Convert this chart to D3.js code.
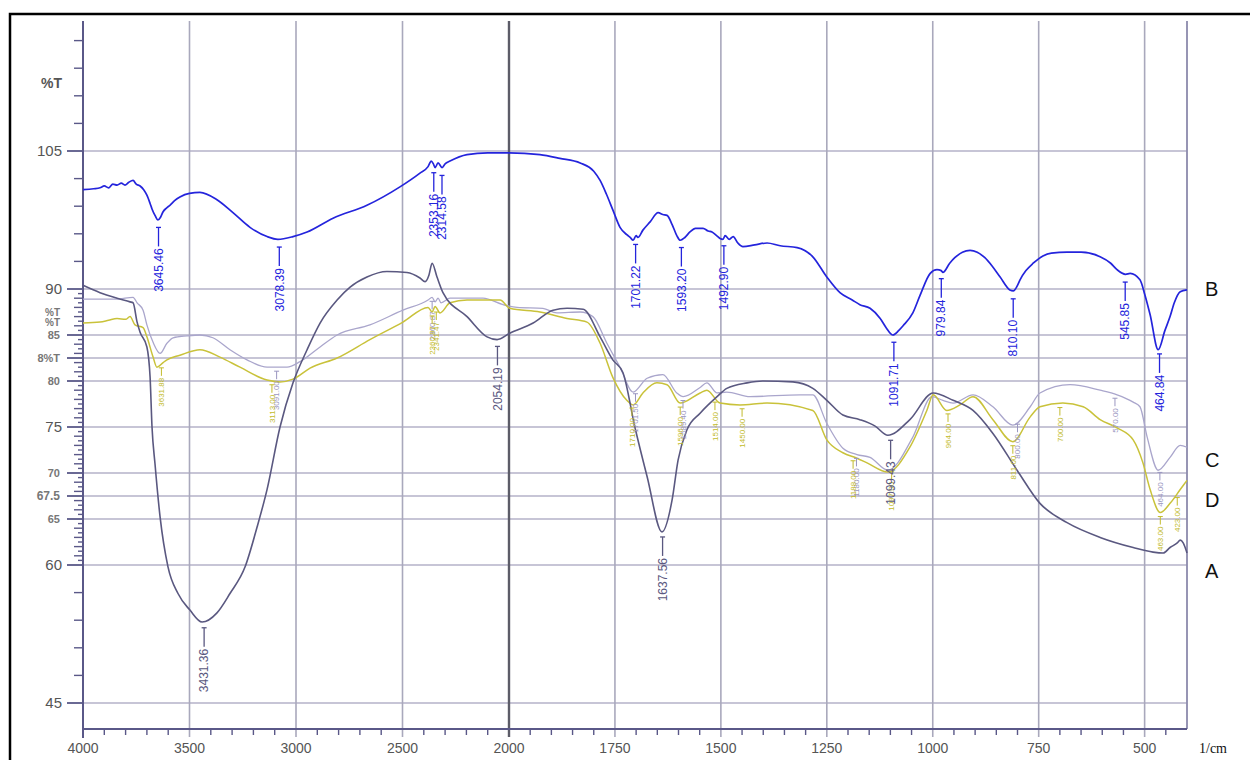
<!DOCTYPE html>
<html><head><meta charset="utf-8">
<script src="https://cdn.jsdelivr.net/npm/d3@7"></script>
<style>body{margin:0;background:#fff;} svg{display:block;font-family:"Liberation Sans",Arial,sans-serif;}</style>
</head><body><svg id="c" width="1250" height="760"></svg>
<script>
// ---------- data ----------
const xMajorTicks = [4000, 3500, 3000, 2500, 2000, 1750, 1500, 1250, 1000, 750, 500];
const yTickValues = [105, 90, 85, 82.5, 80, 75, 70, 67.5, 65, 60, 45];
const yTickLabels = ["105", "90", "85", "8%T", "80", "75", "70", "67.5", "65", "60", "45"];
const seriesNames = ["B", "C", "D", "A"];

const specB = [[4000,100.8],[3950,100.9],[3920,101.0],[3900,101.2],[3880,101.0],[3860,101.4],[3840,101.3],[3820,101.5],[3803,101.3],[3785,101.6],[3765,101.8],[3750,101.4],[3732,101.2],[3715,100.8],[3700,100.2],[3685,99.3],[3676,98.7],[3662,98.0],[3648,97.5],[3636,97.8],[3624,98.4],[3608,98.8],[3592,99.1],[3570,99.6],[3545,100.0],[3500,100.4],[3451,100.5],[3371,99.7],[3296,98.3],[3216,96.7],[3136,95.7],[3085,95.4],[3014,95.7],[2948,96.2],[2826,97.7],[2667,99.1],[2512,101.1],[2418,102.6],[2380,103.3],[2365,103.9],[2355,103.6],[2347,103.2],[2333,103.7],[2314,103.2],[2300,103.6],[2277,103.9],[2197,104.6],[2100,104.8],[2042,104.8],[2000,104.8],[1927,104.6],[1880,104.2],[1832,103.7],[1800,102.8],[1785,101.8],[1770,100.3],[1755,98.6],[1738,96.7],[1722,95.9],[1714,95.6],[1707,95.3],[1700,95.8],[1696,95.6],[1684,96.4],[1667,97.3],[1648,98.3],[1637,98.1],[1627,98.0],[1615,97.0],[1604,95.8],[1596,95.3],[1585,95.6],[1573,96.2],[1560,96.6],[1542,96.6],[1530,96.3],[1521,96.2],[1510,95.8],[1502,95.5],[1495,95.4],[1490,95.8],[1480,95.4],[1471,95.7],[1460,95.0],[1448,94.6],[1420,94.8],[1391,95.0],[1360,94.7],[1320,94.5],[1283,93.5],[1250,91.3],[1219,89.6],[1190,88.8],[1172,88.3],[1148,87.9],[1124,86.8],[1110,85.8],[1094,85.0],[1080,85.5],[1070,86.0],[1047,87.4],[1030,89.3],[1006,91.7],[990,92.1],[980,92.0],[976,91.8],[960,92.8],[948,93.4],[930,94.0],[912,94.2],[895,94.0],[877,93.4],[860,92.5],[841,91.3],[818,89.9],[810,89.8],[800,90.4],[794,91.0],[780,92.0],[763,92.8],[740,93.6],[720,93.9],[683,94.0],[650,94.0],[605,93.5],[580,92.8],[565,92.1],[545,91.6],[534,91.7],[511,91.0],[499,89.3],[487,87.2],[468,83.4],[452,85.5],[440,87.0],[430,88.5],[416,89.7],[400,89.9]];

const specA = [[4000,90.4],[3920,89.6],[3840,89.0],[3779,88.6],[3765,88.5],[3746,86.4],[3732,85.3],[3700,83.7],[3685,80.4],[3676,75.0],[3662,71.0],[3638,65.2],[3601,59.8],[3554,56.9],[3498,55.1],[3441,53.8],[3371,54.8],[3310,56.9],[3239,59.8],[3183,64.1],[3136,68.2],[3075,75.0],[3014,79.8],[2948,83.4],[2887,86.3],[2807,88.8],[2746,90.2],[2667,91.3],[2573,91.9],[2479,91.8],[2418,91.2],[2394,90.8],[2376,91.5],[2361,92.8],[2338,91.3],[2310,89.6],[2197,87.0],[2103,84.8],[2056,84.5],[1998,85.2],[1943,86.3],[1896,87.7],[1863,87.9],[1825,87.8],[1785,84.8],[1755,82.3],[1731,80.9],[1703,75.0],[1674,69.6],[1639,63.6],[1615,67.1],[1601,71.4],[1580,74.7],[1549,76.5],[1509,78.3],[1486,79.2],[1438,79.8],[1401,80.0],[1330,79.9],[1283,79.2],[1250,77.9],[1212,76.3],[1172,75.8],[1136,75.1],[1106,74.1],[1054,75.8],[999,78.7],[952,77.9],[905,76.8],[858,74.3],[801,70.3],[747,66.7],[683,64.6],[605,63.0],[527,61.9],[480,61.4],[456,61.3],[440,61.9],[423,62.4],[416,62.7],[409,62.4],[400,61.3]];

const specC = [[4000,88.9],[3840,88.9],[3765,89.1],[3746,88.5],[3718,87.7],[3700,86.1],[3671,84.2],[3638,83.0],[3606,84.1],[3577,84.7],[3512,84.9],[3451,85.0],[3390,84.7],[3310,83.4],[3230,82.3],[3136,81.5],[3042,81.5],[2981,82.1],[2887,83.7],[2807,85.0],[2653,86.1],[2498,87.7],[2380,88.8],[2361,89.1],[2347,88.6],[2333,89.0],[2319,88.5],[2277,89.0],[2122,89.0],[2028,88.3],[1981,88.0],[1920,87.9],[1887,87.4],[1832,87.5],[1802,87.0],[1769,84.1],[1738,81.5],[1707,78.8],[1674,80.3],[1637,80.7],[1604,78.7],[1589,78.3],[1549,79.3],[1533,79.8],[1509,78.7],[1486,78.8],[1431,78.3],[1313,78.5],[1283,78.5],[1250,75.4],[1212,72.7],[1179,72.0],[1148,71.7],[1106,70.3],[1047,73.9],[1002,78.3],[976,77.9],[952,77.6],[905,78.5],[858,77.2],[811,75.2],[770,77.2],[747,78.7],[676,79.6],[605,79.0],[565,78.5],[527,77.7],[511,77.2],[494,73.9],[468,70.3],[440,71.7],[416,73.0],[400,72.8]];

const specD = [[4000,86.3],[3920,86.4],[3880,86.6],[3840,86.8],[3800,86.7],[3779,87.0],[3756,86.1],[3718,85.8],[3700,84.8],[3671,82.6],[3653,81.5],[3624,82.0],[3606,82.3],[3545,82.8],[3451,83.4],[3357,82.6],[3263,81.5],[3136,80.1],[3075,79.9],[3014,80.2],[2934,81.4],[2807,82.5],[2653,84.5],[2498,86.4],[2380,88.0],[2361,87.5],[2347,88.1],[2324,87.4],[2277,88.5],[2197,88.8],[2042,88.8],[1998,87.9],[1927,87.5],[1863,86.8],[1816,86.4],[1785,84.1],[1755,80.4],[1722,77.9],[1707,77.4],[1684,78.7],[1651,79.8],[1627,79.6],[1596,77.6],[1549,78.7],[1533,79.0],[1502,77.6],[1455,77.4],[1391,77.6],[1283,76.8],[1250,73.6],[1212,72.2],[1179,71.6],[1155,71.1],[1106,70.1],[1054,72.8],[1014,76.8],[999,78.5],[967,76.8],[936,77.4],[905,78.3],[858,75.8],[811,73.4],[770,76.1],[747,77.2],[693,77.6],[645,77.2],[605,75.8],[565,74.9],[527,73.6],[504,71.1],[487,68.2],[463,65.7],[440,66.7],[416,68.2],[400,69.2]];

const peaksB = [3645.46, 3078.39, 2353.16, 2314.58, 1701.22, 1593.20, 1492.90, 1091.71, 979.84, 810.10, 545.85, 464.84];
const peaksA = [3431.36, 2054.19, 1637.56, 1099.43];
const peaksC = [3091.00, 2360.87, 1701.50, 1589.40, 1180.00, 800.00, 570.00, 464.00];
const peaksD = [3631.88, 3113.00, 2360.87, 2341.47, 1710.00, 1596.00, 1514.00, 1450.00, 1188.00, 1097.00, 964.00, 811.00, 700.00, 463.00, 423.00];

// ---------- layout ----------
const svg = d3.select("#c");
const x = d3.scaleLinear().domain([4000, 2000, 400]).range([83, 509, 1187]);
const y = d3.scaleLinear().domain([105, 45]).range([151, 703]);
const plotTop = 21, axisBase = 729;
const colors = {B:"#2424dc", A:"#5a5880", C:"#aaa6cc", D:"#c9c23a"};

// frame
svg.append("rect").attr("x",10).attr("y",14).attr("width",1262).attr("height",780)
  .attr("fill","none").attr("stroke","#000").attr("stroke-width",2.5);

// grid
const grid = svg.append("g");
grid.selectAll("line.h").data(yTickValues).join("line")
  .attr("x1",x(4000)).attr("x2",x(400)).attr("y1",d=>y(d)).attr("y2",d=>y(d))
  .attr("stroke","#b4b2c8").attr("stroke-width",1.6);
grid.selectAll("line.v").data(xMajorTicks.slice(1)).join("line")
  .attr("x1",d=>x(d)).attr("x2",d=>x(d)).attr("y1",plotTop).attr("y2",axisBase+8)
  .attr("stroke",d=>d===2000?"#5c5c68":"#a9a8bc").attr("stroke-width",d=>d===2000?2.4:1.6);
grid.append("line").attr("x1",x(400)).attr("x2",x(400)).attr("y1",plotTop).attr("y2",axisBase)
  .attr("stroke","#8c8aac").attr("stroke-width",1.8);

// axes
const ax = svg.append("g").attr("stroke","#5a5888");
ax.append("line").attr("x1",x(4000)).attr("x2",x(4000)).attr("y1",plotTop).attr("y2",axisBase+9).attr("stroke-width",2);
ax.append("line").attr("x1",x(4000)).attr("x2",x(400)).attr("y1",axisBase).attr("y2",axisBase).attr("stroke-width",1.8);
const xMinor = d3.range(3900, 2000, -100).filter(v=>v%500!==0).concat(d3.range(1950, 400, -50).filter(v=>v%250!==0));
ax.selectAll("line.xm").data(xMinor).join("line")
  .attr("x1",d=>x(d)).attr("x2",d=>x(d)).attr("y1",axisBase).attr("y2",axisBase+6).attr("stroke-width",1.4);
ax.selectAll("line.ym").data(yTickValues).join("line")
  .attr("x1",67).attr("x2",x(4000)).attr("y1",d=>y(d)).attr("y2",d=>y(d)).attr("stroke-width",1.8);
const yMinor = [117,114,111,108,102,99,96,93,57,54,51,48].concat(d3.range(89.5, 60, -0.5).filter(v=>!yTickValues.includes(v)));
ax.selectAll("line.yn").data(yMinor).join("line")
  .attr("x1",d=>(d>60&&d<90&&d%1!==0)?78:74).attr("x2",x(4000)).attr("y1",d=>y(d)).attr("y2",d=>y(d)).attr("stroke-width",1.4);

// x labels
svg.append("g").selectAll("text").data(xMajorTicks).join("text")
  .attr("x",d=>x(d)).attr("y",748).attr("dy","0.35em").attr("text-anchor","middle")
  .attr("font-size",14).attr("fill","#555").text(d=>d);
svg.append("text").attr("x",1199).attr("y",748).attr("dy","0.35em")
  .attr("font-family","'Liberation Serif','Times New Roman',serif").attr("font-size",14).attr("fill","#111").text("1/cm");

// y labels
const bigY = new Set([105, 90, 75, 60, 45]);
svg.append("g").selectAll("text").data(yTickValues).join("text")
  .attr("x",d=>bigY.has(d)?62:60).attr("y",d=>y(d)).attr("dy","0.35em").attr("text-anchor","end")
  .attr("font-size",d=>bigY.has(d)?15:(d===67.5?12:11)).attr("font-weight",d=>bigY.has(d)?"normal":"bold")
  .attr("fill",d=>bigY.has(d)?"#555":"#777").text((d,i)=>yTickLabels[i]);
svg.append("text").attr("x",62).attr("y",83).attr("dy","0.35em").attr("text-anchor","end")
  .attr("font-size",14).attr("font-weight","bold").attr("fill","#555").text("%T");
[87.4, 86.4].forEach(v=>svg.append("text").attr("x",60).attr("y",y(v)).attr("dy","0.35em").attr("text-anchor","end")
  .attr("font-size",10).attr("font-weight","bold").attr("fill","#777").text("%T"));

// curves
const line = d3.line().x(d=>x(d[0])).y(d=>y(d[1])).curve(d3.curveMonotoneX);
const specs = {B:specB, C:specC, D:specD, A:specA};
const widths = {B:1.7, A:1.6, C:1.3, D:1.5};
["C","D","A","B"].forEach(k=>{
  svg.append("path").datum(specs[k]).attr("d",line).attr("fill","none")
    .attr("stroke",colors[k]).attr("stroke-width",widths[k]).attr("stroke-linejoin","round");
});

// peak annotations
function valueAt(spec, w){
  for(let i=0;i<spec.length-1;i++){
    const a=spec[i], b=spec[i+1];
    if(w<=a[0] && w>=b[0]){ const t=(a[0]-w)/(a[0]-b[0]); return a[1]+t*(b[1]-a[1]); }
  }
  return spec[spec.length-1][1];
}
function annotate(spec, peaks, color, gap, len, fs, sw){
  const g = svg.append("g");
  peaks.forEach(p=>{
    const px = x(p), y0 = y(valueAt(spec,p))+gap, y1 = y0+len;
    g.append("line").attr("x1",px).attr("x2",px).attr("y1",y0).attr("y2",y1).attr("stroke",color).attr("stroke-width",sw);
    g.append("line").attr("x1",px-2.5).attr("x2",px+2.5).attr("y1",y0).attr("y2",y0).attr("stroke",color).attr("stroke-width",sw);
    g.append("text").attr("transform",`translate(${px},${y1+2}) rotate(-90)`)
      .attr("text-anchor","end").attr("dy","0.35em").attr("font-size",fs).attr("fill",color).text(p.toFixed(2));
  });
}
annotate(specC, peaksC, "#9a96c0", 4, 8, 8, 1);
annotate(specD, peaksD, "#c2bb2c", 4, 8, 8, 1);
annotate(specA, peaksA, colors.A, 7, 19, 12, 1.3);
annotate(specB, peaksB, colors.B, 8, 19, 12, 1.3);

// series names
const nameY = {B:90, C:71.4, D:67.1, A:59.4};
svg.append("g").selectAll("text").data(seriesNames).join("text")
  .attr("x",1205).attr("y",d=>y(nameY[d])).attr("dy","0.35em")
  .attr("font-size",20).attr("fill","#111").text(d=>d);
</script></body></html>
